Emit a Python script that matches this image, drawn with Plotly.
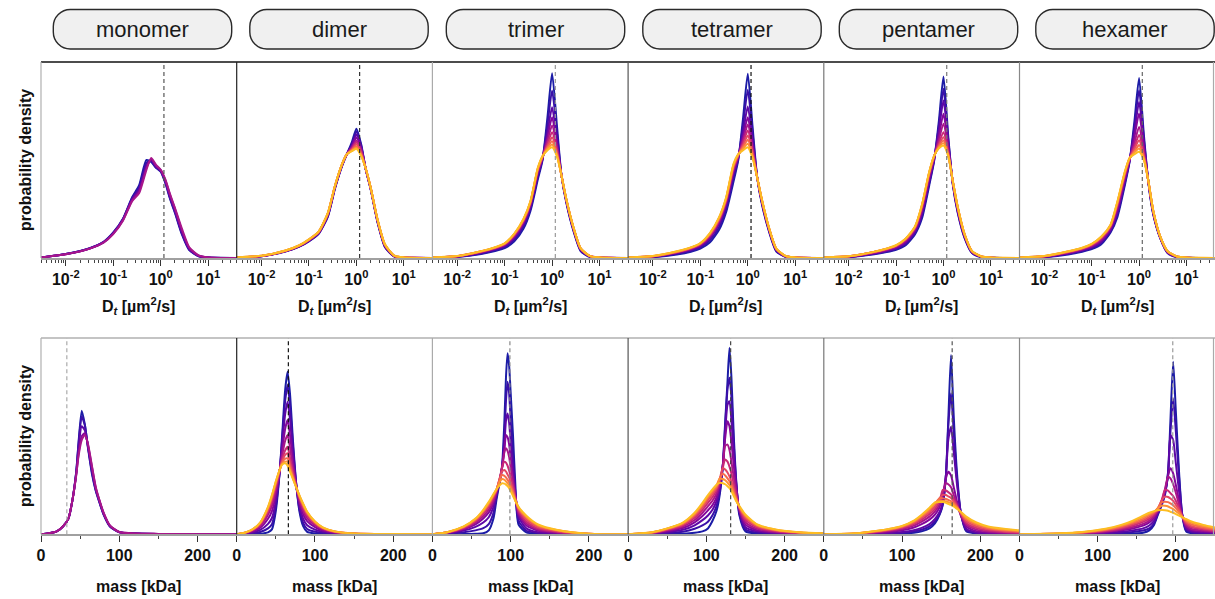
import math
import plotly.graph_objects as go

# ---------------- data ----------------
PANEL_NAMES = ["monomer", "dimer", "trimer", "tetramer", "pentamer", "hexamer"]
D_TICKS = [0.01, 0.1, 1, 10]
D_TICK_TEXT = ["10<sup>-2</sup>", "10<sup>-1</sup>", "10<sup>0</sup>", "10<sup>1</sup>"]
MASS_TICKS = [0, 100, 200]
D_REF = 1.17
MASS_REF = [33, 66, 99, 131, 164, 196]

# diffusion coefficient grid [um^2/s]
D_GRID = [0.003, 0.01, 0.032, 0.063, 0.1, 0.16, 0.25, 0.35, 0.5, 0.63, 0.8, 1.0, 1.26, 1.58, 2.0, 2.8, 4.0, 6.3, 10, 40]

D_MONOMER = [
    [0.3, 2.0, 5.0, 8.3, 13, 20, 31, 37, 50, 49, 46, 44, 38, 30, 23, 12, 4, 0.9, 0.2, 0],
    [0.3, 2.0, 5.0, 8.2, 12.8, 19.8, 30.5, 36, 48.5, 49.5, 46, 44.5, 38.5, 30.5, 23.5, 12.5, 4.3, 1.0, 0.2, 0],
    [0.3, 2.0, 4.9, 8.1, 12.6, 19.6, 30, 35, 47, 50, 46.5, 44.5, 39, 31, 24, 13, 4.5, 1.0, 0.3, 0],
    [0.3, 1.9, 4.8, 8.0, 12.4, 19.3, 29.5, 34, 46, 50.5, 47, 45, 39.5, 32, 25, 14, 5, 1.2, 0.3, 0],
    [0.3, 1.9, 4.8, 7.9, 12.2, 19, 29, 33, 45, 51, 47.5, 45, 40, 32.5, 25.5, 15, 5.5, 1.3, 0.3, 0],
]
D_DIMER = [
    [0.2, 0.9, 3.3, 5.8, 8.5, 12.3, 21, 35, 47, 53, 59, 66, 58, 45, 35, 18, 5.5, 0.7, 0.1, 0],
    [0.2, 0.9, 3.4, 5.9, 8.7, 12.5, 21.4, 35.3, 47.2, 53, 58, 64.5, 57.3, 45.1, 35.2, 18.3, 5.8, 0.8, 0.1, 0],
    [0.2, 0.9, 3.5, 6.0, 8.9, 12.7, 21.8, 35.6, 47.4, 53, 57.3, 63, 56.6, 45.2, 35.4, 18.6, 6.0, 0.9, 0.2, 0],
    [0.2, 1.0, 3.5, 6.1, 9.0, 12.9, 22.1, 35.8, 47.5, 53, 56.8, 61.5, 55.8, 45.3, 35.5, 18.8, 6.3, 0.9, 0.2, 0],
    [0.2, 1.0, 3.6, 6.2, 9.1, 13.0, 22.3, 36, 47.7, 53, 56.3, 60, 55, 45.3, 35.6, 19, 6.4, 1.0, 0.2, 0],
    [0.3, 1.0, 3.6, 6.3, 9.2, 13.1, 22.5, 36.1, 47.8, 53, 55.8, 59, 54.2, 45.4, 35.7, 19.1, 6.6, 1.0, 0.2, 0],
    [0.3, 1.0, 3.7, 6.3, 9.3, 13.3, 22.7, 36.3, 47.9, 53, 55.4, 58, 53.5, 45.4, 35.8, 19.3, 6.7, 1.1, 0.2, 0],
    [0.3, 1.1, 3.7, 6.4, 9.4, 13.4, 22.8, 36.4, 48, 53, 55, 57, 52.9, 45.5, 35.9, 19.4, 6.8, 1.1, 0.3, 0],
    [0.3, 1.1, 3.8, 6.5, 9.5, 13.5, 22.9, 36.5, 48, 53, 54.7, 56.3, 52.4, 45.5, 36, 19.5, 6.9, 1.2, 0.3, 0],
    [0.3, 1.1, 3.8, 6.5, 9.5, 13.5, 23, 36.5, 48, 53, 54.5, 55.7, 52, 45.5, 36, 19.5, 7, 1.2, 0.3, 0],
]
D_TRIMER = [
    [0.1, 0.5, 2.0, 3.5, 5, 8.5, 15, 24, 40, 50, 72, 94.3, 68, 42, 28, 14, 3.5, 0.5, 0.1, 0],
    [0.15, 0.6, 2.3, 4.0, 5.6, 9.4, 16.2, 25.2, 41.4, 50.5, 68, 85.5, 64.3, 42, 28.5, 14.5, 3.8, 0.6, 0.15, 0],
    [0.2, 0.7, 2.7, 4.4, 6.2, 10.3, 17.3, 26.3, 42.8, 50.9, 64.2, 76.9, 60.6, 42, 28.9, 14.9, 4.2, 0.7, 0.2, 0],
    [0.22, 0.8, 2.9, 4.7, 6.5, 10.9, 18, 27, 43.6, 51.2, 61.8, 71.8, 58.4, 42, 29.2, 15.2, 4.4, 0.8, 0.22, 0],
    [0.24, 0.85, 3.1, 4.9, 6.8, 11.3, 18.6, 27.6, 44.3, 51.4, 59.9, 67.6, 56.6, 42, 29.4, 15.4, 4.6, 0.85, 0.24, 0],
    [0.26, 0.9, 3.2, 5.1, 7.0, 11.7, 19, 28, 44.8, 51.6, 58.4, 64.2, 55.2, 42, 29.6, 15.6, 4.7, 0.9, 0.26, 0],
    [0.27, 0.93, 3.3, 5.2, 7.2, 12, 19.4, 28.4, 45.2, 51.7, 57.2, 61.6, 54.1, 42, 29.7, 15.7, 4.8, 0.93, 0.27, 0],
    [0.28, 0.96, 3.4, 5.3, 7.3, 12.2, 19.6, 28.6, 45.5, 51.8, 56.4, 59.6, 53.3, 42, 29.8, 15.8, 4.9, 0.96, 0.28, 0],
    [0.29, 0.98, 3.45, 5.4, 7.4, 12.3, 19.8, 28.8, 45.8, 51.9, 55.7, 57.9, 52.6, 42, 29.9, 15.9, 4.9, 0.98, 0.29, 0],
    [0.3, 1.0, 3.5, 5.5, 7.5, 12.5, 20, 29, 46, 52, 55, 56.5, 52, 42, 30, 16, 5, 1.0, 0.3, 0],
]
D_TETRAMER = [
    [0.1, 0.4, 1.8, 3.2, 4.8, 8, 14.5, 23.5, 39, 50, 72, 94, 67, 41, 27, 13.5, 3.3, 0.5, 0.1, 0],
    [0.14, 0.5, 2.2, 3.7, 5.4, 9.1, 15.9, 25.2, 41, 50.7, 68.3, 85.8, 63.5, 41, 27.6, 13.9, 3.6, 0.6, 0.14, 0],
    [0.19, 0.7, 2.5, 4.2, 6.0, 10.2, 17.4, 27, 43, 51.3, 64.4, 77.3, 59.8, 41, 28.1, 14.4, 4.0, 0.7, 0.19, 0],
    [0.22, 0.75, 2.7, 4.5, 6.5, 10.8, 18.3, 28, 44.3, 51.8, 62, 71.8, 57.6, 41, 28.5, 14.7, 4.2, 0.8, 0.22, 0],
    [0.24, 0.8, 2.9, 4.7, 6.8, 11.3, 19, 28.8, 45.2, 52.1, 60.3, 68.1, 56, 41, 28.7, 14.9, 4.3, 0.85, 0.24, 0],
    [0.25, 0.85, 3.0, 4.9, 7.0, 11.7, 19.6, 29.4, 45.9, 52.3, 58.9, 65.1, 54.7, 41, 28.9, 15.0, 4.4, 0.9, 0.25, 0],
    [0.27, 0.9, 3.1, 5.1, 7.2, 12, 20, 30, 46.6, 52.5, 57.7, 62.5, 53.6, 41, 29.1, 15.2, 4.6, 0.92, 0.27, 0],
    [0.28, 0.95, 3.2, 5.2, 7.4, 12.4, 20.4, 30.3, 47.1, 52.7, 56.7, 60.3, 52.6, 41, 29.3, 15.3, 4.7, 0.95, 0.28, 0],
    [0.29, 0.98, 3.3, 5.3, 7.5, 12.6, 20.7, 30.6, 47.5, 52.8, 55.9, 58.3, 51.8, 41, 29.4, 15.4, 4.7, 0.98, 0.29, 0],
    [0.3, 1.0, 3.4, 5.4, 7.6, 12.8, 21, 31, 48, 53, 55, 56.5, 51, 41, 29.5, 15.5, 4.8, 1.0, 0.3, 0],
]
D_PENTAMER = [
    [0.1, 0.4, 1.8, 3.0, 4.2, 6.5, 12, 20, 37, 49, 70, 92.6, 62, 37, 23, 10, 2.5, 0.4, 0.1, 0],
    [0.14, 0.49, 2.0, 3.3, 4.6, 7.1, 12.7, 21.3, 38.3, 49.5, 67.5, 86.3, 60.2, 37.4, 23.5, 10.4, 2.7, 0.47, 0.12, 0],
    [0.17, 0.58, 2.2, 3.6, 5.0, 7.7, 13.4, 22.5, 39.5, 50, 65.1, 80.4, 58.5, 37.7, 24, 10.7, 2.9, 0.54, 0.14, 0],
    [0.21, 0.67, 2.4, 4.0, 5.4, 8.4, 14.2, 23.8, 40.8, 50.6, 62.4, 73.6, 56.6, 38.1, 24.6, 11.1, 3.0, 0.62, 0.15, 0],
    [0.24, 0.75, 2.6, 4.2, 5.8, 8.9, 14.8, 24.8, 41.8, 51.1, 60.3, 68.5, 55.1, 38.4, 25.1, 11.4, 3.2, 0.68, 0.17, 0],
    [0.26, 0.81, 2.8, 4.5, 6.1, 9.3, 15.2, 25.7, 42.7, 51.4, 58.7, 64.2, 53.9, 38.6, 25.4, 11.6, 3.3, 0.72, 0.18, 0],
    [0.28, 0.84, 2.9, 4.6, 6.2, 9.6, 15.5, 26.2, 43.2, 51.6, 57.7, 61.6, 53.2, 38.8, 25.6, 11.8, 3.4, 0.75, 0.19, 0],
    [0.29, 0.87, 2.9, 4.7, 6.3, 9.8, 15.7, 26.5, 43.5, 51.8, 57, 60, 52.7, 38.9, 25.8, 11.9, 3.4, 0.77, 0.19, 0],
    [0.29, 0.89, 3.0, 4.7, 6.4, 9.9, 15.9, 26.8, 43.8, 51.9, 56.4, 58.6, 52.3, 38.9, 25.9, 11.9, 3.5, 0.79, 0.2, 0],
    [0.3, 0.9, 3.0, 4.8, 6.5, 10, 16, 27, 44, 52, 56, 57.4, 52, 39, 26, 12, 3.5, 0.8, 0.2, 0],
]
D_HEXAMER = [
    [0.1, 0.4, 1.8, 3.2, 4.5, 7, 13, 21, 37, 49, 70, 91.9, 63, 38, 22, 10, 2.5, 0.4, 0.1, 0],
    [0.13, 0.5, 2.1, 3.5, 5.0, 7.7, 13.7, 22.4, 38.2, 49.3, 67.1, 85.6, 60.8, 38.2, 22.3, 10.2, 2.7, 0.47, 0.12, 0],
    [0.17, 0.6, 2.3, 3.9, 5.4, 8.3, 14.3, 23.6, 39.3, 49.7, 64.4, 79.6, 58.7, 38.3, 22.7, 10.3, 2.8, 0.53, 0.13, 0],
    [0.2, 0.69, 2.6, 4.2, 5.8, 8.9, 14.9, 24.8, 40.4, 50, 61.8, 73.7, 56.8, 38.5, 23, 10.5, 3.0, 0.59, 0.15, 0],
    [0.23, 0.8, 2.9, 4.5, 6.3, 9.6, 15.6, 26.3, 41.6, 50.3, 58.8, 66.9, 54.4, 38.7, 23.3, 10.7, 3.2, 0.66, 0.17, 0],
    [0.25, 0.86, 3.0, 4.7, 6.6, 10.1, 16.1, 27.2, 42.4, 50.5, 56.9, 62.7, 53, 38.8, 23.5, 10.8, 3.3, 0.71, 0.18, 0],
    [0.27, 0.9, 3.1, 4.9, 6.8, 10.4, 16.4, 27.7, 42.9, 50.7, 55.7, 60.1, 52.1, 38.8, 23.7, 10.8, 3.3, 0.74, 0.18, 0],
    [0.28, 0.95, 3.3, 5.0, 7.0, 10.6, 16.6, 28.3, 43.4, 50.8, 54.5, 57.6, 51.2, 38.9, 23.8, 10.9, 3.4, 0.76, 0.19, 0],
    [0.29, 0.97, 3.3, 5.1, 7.1, 10.8, 16.8, 28.6, 43.7, 50.9, 53.9, 55.9, 50.7, 38.9, 23.9, 10.9, 3.5, 0.78, 0.2, 0],
    [0.3, 1.0, 3.4, 5.2, 7.2, 11, 17, 29, 44, 51, 53, 54.2, 50, 39, 24, 11, 3.5, 0.8, 0.2, 0],
]

# mass grids [kDa] and densities
MASS_MONOMER = [0, 10, 20, 28, 35, 40, 45, 48, 52, 56, 60, 65, 70, 75, 80, 88, 100, 120, 150, 250]
M_MONOMER = [
    [0, 0.5, 1.5, 4, 8, 17, 32, 47, 63, 56, 44, 31, 22, 15.8, 10, 4, 1, 0.4, 0.2, 0],
    [0, 0.5, 1.5, 4, 8, 17, 31.5, 46, 60, 55.5, 44.5, 32, 22.5, 16, 10.2, 4.1, 1.1, 0.4, 0.2, 0],
    [0, 0.5, 1.5, 4, 8, 17, 31, 44, 55, 53, 45, 33, 23, 16.5, 10.5, 4.3, 1.1, 0.4, 0.2, 0],
    [0, 0.5, 1.5, 4, 8, 17, 30.5, 41, 50, 51.5, 45.5, 34.5, 23.5, 16.8, 10.8, 4.4, 1.2, 0.4, 0.2, 0],
    [0, 0.5, 1.5, 4, 8, 17, 30, 40, 48, 50.6, 46, 35, 24, 17, 11, 4.5, 1.2, 0.4, 0.2, 0],
]
MASS_DIMER = [0, 10, 20, 30, 40, 45, 50, 55, 58, 62, 65, 68, 72, 76, 80, 85, 90, 100, 110, 125, 150, 200, 250]
M_DIMER = [
    [0, 0, 0.1, 0.3, 1, 2.5, 12, 32, 50, 74, 82.8, 72, 47, 26, 12, 4, 1.2, 0.4, 0.2, 0.1, 0, 0, 0],
    [0, 0.12, 0.46, 1.2, 3, 5.1, 14.3, 32.2, 47.8, 68.3, 76, 66, 44.2, 25.7, 13.2, 5.7, 2.7, 1.3, 0.7, 0.3, 0.06, 0.02, 0],
    [0, 0.26, 0.9, 2.2, 5.3, 8.3, 17, 32.3, 45.2, 61.5, 67.5, 58.8, 40.7, 25.3, 14.6, 7.8, 4.6, 2.4, 1.3, 0.6, 0.13, 0.03, 0],
    [0, 0.42, 1.4, 3.3, 7.9, 11.8, 20, 32.5, 42.3, 53.9, 58.2, 50.8, 36.9, 24.9, 16.2, 10.1, 6.7, 3.6, 1.9, 0.8, 0.2, 0.05, 0],
    [0, 0.55, 1.8, 4.2, 10, 14.6, 22.4, 32.7, 40, 47.8, 50.6, 44.4, 33.9, 24.6, 17.5, 11.9, 8.3, 4.6, 2.5, 1.1, 0.28, 0.07, 0],
    [0, 0.66, 2.1, 5, 11.7, 16.9, 24.3, 32.8, 38.1, 42.8, 44.6, 39.2, 31.4, 24.4, 18.6, 13.4, 9.6, 5.4, 2.9, 1.2, 0.33, 0.08, 0],
    [0, 0.71, 2.2, 5.4, 12.6, 18.1, 25.4, 32.9, 37.1, 40.5, 41.3, 36.4, 30.1, 24.2, 19.1, 14.2, 10.4, 5.8, 3.1, 1.3, 0.36, 0.09, 0],
    [0, 0.75, 2.4, 5.7, 13.2, 19, 26.1, 32.9, 36.4, 38.5, 38.7, 34.4, 29.1, 24.1, 19.5, 14.8, 10.9, 6.1, 3.3, 1.4, 0.38, 0.09, 0],
    [0, 0.78, 2.45, 5.9, 13.7, 19.7, 26.7, 33, 35.8, 37, 37, 32.8, 28.4, 24, 19.8, 15.3, 11.3, 6.4, 3.4, 1.5, 0.39, 0.1, 0],
    [0, 0.8, 2.5, 6, 14, 20, 27, 33, 35.5, 36.2, 35, 32, 28, 24, 20, 15.5, 11.5, 6.5, 3.5, 1.5, 0.4, 0.1, 0],
]
MASS_TRIMER = [0, 20, 40, 55, 65, 72, 78, 82, 86, 89, 92, 94, 96, 98, 100, 103, 106, 110, 120, 135, 160, 200, 250]
M_TRIMER = [
    [0, 0, 0.1, 0.3, 0.5, 2, 8, 18, 27, 35, 58, 80, 92.2, 86, 72, 50, 25, 5, 1, 0.3, 0.1, 0, 0],
    [0, 0.3, 1, 2, 3.1, 5.2, 11, 19.5, 27, 34, 50, 68, 77.7, 72, 58, 40, 21, 7, 1.8, 0.6, 0.2, 0, 0],
    [0, 0.55, 1.9, 3.8, 6, 8.7, 14, 20.5, 27, 34, 46, 58, 61.6, 57, 47, 34, 21, 9, 3, 1, 0.4, 0.05, 0],
    [0, 0.76, 2.6, 5.1, 8.1, 11.1, 16, 21.5, 27.5, 34, 43, 50.6, 49.5, 46, 39, 29, 19.5, 10, 4.5, 1.8, 0.7, 0.1, 0],
    [0, 0.88, 2.9, 5.9, 9.3, 12.6, 17.2, 22, 28, 34, 42, 43.8, 42.5, 39.5, 34, 27, 19, 11, 5.5, 2.4, 1, 0.15, 0],
    [0, 1, 3.3, 6.7, 10.5, 14, 18.5, 22.5, 28.5, 34, 37, 36.5, 35, 32.5, 29.5, 24.5, 18.5, 12, 6.5, 3, 1.3, 0.2, 0],
    [0, 1.08, 3.6, 7.2, 11.3, 15, 19.3, 22.8, 28.5, 32, 32.8, 32, 30.5, 29, 26.5, 22.5, 17.8, 12.8, 7.5, 3.7, 1.6, 0.22, 0],
    [0, 1.13, 3.8, 7.5, 11.8, 15.6, 19.8, 22.9, 28, 30.2, 29.8, 29, 27.8, 26.5, 24.5, 21.5, 17.5, 13.3, 8.5, 4.3, 1.9, 0.25, 0],
    [0, 1.16, 3.9, 7.8, 12.1, 16, 20.1, 23, 26.8, 28.2, 27.8, 27, 26, 25, 23.3, 20.5, 17.2, 13.7, 9, 4.7, 2.1, 0.28, 0],
    [0, 1.2, 4, 8, 12.5, 16.5, 20.5, 23, 25, 26, 25.8, 25.3, 24.5, 23.5, 22, 19.5, 17, 14, 9.5, 5, 2.2, 0.3, 0],
]
MASS_TETRAMER = [0, 30, 50, 70, 85, 95, 102, 108, 113, 117, 121, 124, 127, 129.5, 132, 135, 138, 142, 150, 165, 190, 220, 250]
M_TETRAMER = [
    [0, 0, 0.1, 0.3, 0.8, 1.5, 3, 7, 12, 20, 35, 57, 78, 95, 80, 50, 28, 10, 1.5, 0.5, 0.2, 0.1, 0],
    [0, 0.2, 0.6, 1.3, 2.8, 4.5, 6.4, 9.8, 14.5, 21.5, 35, 55, 74, 79.7, 70, 46, 27, 11, 2.5, 0.9, 0.4, 0.2, 0.1],
    [0, 0.4, 1.1, 2.3, 4.6, 7.2, 9.6, 12.6, 17, 23.5, 35, 52, 66, 67.8, 58, 41, 26, 12, 3.5, 1.5, 0.6, 0.3, 0.15],
    [0, 0.5, 1.6, 3.2, 6.1, 9.3, 12.2, 15, 19, 25, 35, 49, 57.6, 55, 47, 35, 24, 12.5, 4.8, 2, 0.9, 0.4, 0.2],
    [0, 0.65, 2, 4, 7.3, 11, 14.3, 17.2, 20.8, 26, 35, 45, 45.7, 43, 37, 29, 22, 13, 6, 2.8, 1.2, 0.5, 0.25],
    [0, 0.75, 2.3, 4.6, 8.4, 12.5, 16, 19, 22.5, 27, 34, 38.1, 37, 34.5, 31, 25.5, 20, 13.5, 7.2, 3.4, 1.5, 0.65, 0.3],
    [0, 0.85, 2.6, 5.1, 9.3, 13.7, 17.4, 20.4, 23.5, 28, 33.8, 33, 31.5, 29.5, 27, 23, 19, 13.8, 8.3, 4, 1.8, 0.8, 0.35],
    [0, 0.92, 2.8, 5.5, 10, 14.7, 18.5, 21.5, 24.2, 28.5, 30.8, 30, 28.5, 27, 25, 21.5, 18.3, 14, 9, 4.4, 2, 0.9, 0.4],
    [0, 0.97, 2.9, 5.8, 10.6, 15.4, 19.3, 22.4, 25, 28.4, 28.2, 27.5, 26.3, 25.2, 23.5, 20.5, 17.6, 14.2, 9.6, 4.8, 2.2, 0.95, 0.45],
    [0, 1, 3, 6, 11, 16, 20, 23, 25.2, 26.2, 26, 25.5, 24.5, 23.5, 22, 19.5, 17, 14.5, 10, 5, 2.3, 1, 0.5],
]
MASS_PENTAMER = [0, 40, 60, 80, 100, 115, 125, 135, 142, 148, 152, 156, 159, 162.5, 166, 170, 175, 182, 195, 210, 230, 250]
M_PENTAMER = [
    [0, 0, 0, 0.1, 0.3, 0.8, 1.5, 3, 5.5, 10, 15, 30, 58, 91.3, 60, 32, 11, 1.5, 0.4, 0.2, 0.1, 0],
    [0, 0.05, 0.15, 0.35, 0.7, 1.4, 2.3, 4, 6.6, 10.5, 15.5, 30, 55, 71.8, 52, 29, 11, 2, 0.6, 0.3, 0.2, 0.1],
    [0, 0.1, 0.3, 0.6, 1.2, 2.1, 3.3, 5.2, 7.8, 11.5, 16.5, 30, 48, 54.8, 42, 26, 11, 2.8, 0.9, 0.5, 0.3, 0.2],
    [0, 0.2, 0.6, 1.1, 2.1, 3.5, 5.2, 7.5, 10, 14, 20, 28.5, 31.9, 30, 24, 17, 9.5, 4, 1.6, 0.9, 0.6, 0.4],
    [0, 0.25, 0.8, 1.5, 2.7, 4.4, 6.5, 9, 11.7, 15.5, 21, 26, 25.5, 24, 20, 15.5, 10, 5, 2.4, 1.4, 0.9, 0.6],
    [0, 0.3, 0.9, 1.8, 3.2, 5.2, 7.5, 10.3, 13, 17, 22.6, 22.3, 21.5, 20.3, 18, 14.8, 10.5, 5.8, 3.2, 1.9, 1.2, 0.8],
    [0, 0.35, 1.1, 2, 3.6, 5.8, 8.4, 11.4, 14.2, 18.5, 20.1, 20, 19.3, 18.5, 16.8, 14.3, 10.8, 6.6, 4, 2.5, 1.6, 1.1],
    [0, 0.4, 1.2, 2.2, 3.9, 6.3, 9.1, 12.3, 15.5, 18.4, 18.3, 18, 17.5, 16.9, 15.8, 13.9, 11.1, 7.5, 4.8, 3.1, 2, 1.4],
    [0, 0.45, 1.3, 2.4, 4.1, 6.7, 9.6, 13, 16, 17.2, 17, 16.8, 16.4, 15.9, 15, 13.5, 11.3, 8.3, 5.4, 3.6, 2.4, 1.7],
    [0, 0.5, 1.4, 2.5, 4.3, 7, 10, 13.5, 16.2, 16.5, 16.4, 16, 15.5, 15, 14.2, 13, 11.5, 9, 6, 4, 2.8, 2],
]
MASS_HEXAMER = [0, 50, 80, 110, 130, 145, 158, 166, 172, 177, 182, 186, 190, 193, 196.5, 200, 204, 208, 213, 220, 235, 250]
M_HEXAMER = [
    [0, 0, 0, 0.1, 0.2, 0.4, 0.8, 2, 4.8, 10, 15, 20, 32, 58, 87.9, 62, 32, 10, 1.5, 0.5, 0.2, 0.1],
    [0, 0.05, 0.15, 0.4, 0.7, 1.2, 1.9, 3, 5.5, 10.5, 15.5, 21, 31, 52, 69.2, 52, 29, 10.5, 2.2, 0.9, 0.5, 0.4],
    [0, 0.1, 0.25, 0.7, 1.3, 2, 3, 4.5, 6.8, 11, 16, 21, 30, 50.6, 48, 36, 22, 10, 3, 1.4, 0.9, 0.7],
    [0, 0.15, 0.4, 1.1, 2, 3, 4.4, 6, 8.2, 11.8, 16.5, 22, 30, 33.6, 31, 25, 17, 9.5, 3.8, 2, 1.4, 1],
    [0, 0.2, 0.5, 1.4, 2.5, 3.7, 5.3, 7, 9.2, 12.3, 17, 23, 29.3, 28.5, 25.5, 21, 15, 9.3, 4.5, 2.7, 1.9, 1.4],
    [0, 0.25, 0.65, 1.7, 3, 4.5, 6.3, 8, 10, 12.8, 17.5, 22.6, 22.2, 21, 19.5, 17, 13.5, 9.2, 5.3, 3.5, 2.5, 1.8],
    [0, 0.3, 0.8, 2, 3.5, 5.2, 7.1, 8.9, 10.7, 13.2, 17.5, 19.2, 19, 18.2, 17, 15, 12.5, 9.2, 6, 4.2, 3, 2.2],
    [0, 0.35, 0.95, 2.3, 4, 5.8, 7.9, 9.7, 11.2, 13.5, 16.4, 16.6, 16.4, 15.8, 14.8, 13.3, 11.6, 9, 6.6, 5, 3.6, 2.6],
    [0, 0.45, 1.1, 2.6, 4.4, 6.4, 8.7, 10.4, 11.5, 13.2, 14.6, 14.5, 14.2, 13.6, 12.9, 11.8, 10.6, 8.9, 7.2, 5.8, 4.2, 3],
    [0, 0.5, 1.2, 2.8, 4.8, 7, 9.5, 11, 11.8, 12.2, 12.4, 12.3, 12, 11.5, 11, 10.3, 9.5, 8.7, 7.8, 6.5, 4.8, 3.5],
]

D_SETS = [D_MONOMER, D_DIMER, D_TRIMER, D_TETRAMER, D_PENTAMER, D_HEXAMER]
MASS_GRIDS = [MASS_MONOMER, MASS_DIMER, MASS_TRIMER, MASS_TETRAMER, MASS_PENTAMER, MASS_HEXAMER]
M_SETS = [M_MONOMER, M_DIMER, M_TRIMER, M_TETRAMER, M_PENTAMER, M_HEXAMER]

COLORS = ['#1c1ca6', '#3a10a8', '#5d08a6', '#84079b', '#a8168a',
          '#c92a76', '#e34864', '#f56b4c', '#fd9236', '#fdbd22']

# ---------------- layout helpers ----------------
W, H = 1215, 599
def fx(x):
    return min(max(x / W, 0.0), 1.0)
def fy(y):
    return min(max(1 - y / H, 0.0), 1.0)

PANEL_L0 = 41
PANEL_W = 195.7
ROWS = [(62, 258), (338, 534.3)]
FONT = "Arial, Liberation Sans, sans-serif"
BOLD = dict(family=FONT, size=16, color="#111", weight="bold")

TOP_DASH = ['#555', '#333', '#999', '#111', '#777', '#666']
BOT_DASH = ['#aaa', '#111', '#888', '#444', '#555', '#999']
DIVIDER_COLORS = ['#b0b0b0', '#222', '#aaa', '#555', '#777', '#888', '#aaa']

fig = go.Figure()
layout = dict(
    width=W, height=H, margin=dict(l=0, r=0, t=0, b=0), autosize=False,
    template="none", paper_bgcolor="white", plot_bgcolor="white",
    showlegend=False, font=dict(family=FONT),
)

minor_log = [m * 10 ** e for e in range(-3, 2) for m in range(2, 10)]

for row in range(2):
    top, bot = ROWS[row]
    for j in range(6):
        n = row * 6 + j + 1
        L = PANEL_L0 + PANEL_W * j
        xa = dict(domain=[fx(L), fx(L + PANEL_W)], anchor=f"y{n}",
                  showgrid=False, zeroline=False, showline=True,
                  linecolor="#a0a0a0", linewidth=1.5, ticks="outside",
                  ticklen=6, tickwidth=1, tickcolor="#333",
                  tickfont=dict(family=FONT, size=16, color="#111", weight="bold"),
                  automargin=False, fixedrange=True)
        if row == 0:
            xa.update(type="log", range=[math.log10(0.003), math.log10(40)],
                      tickvals=D_TICKS, ticktext=D_TICK_TEXT,
                      minor=dict(tickvals=minor_log, ticks="outside", ticklen=3,
                                 tickwidth=1, tickcolor="#444"))
        else:
            xa.update(type="linear", range=[0, 250], tickvals=MASS_TICKS,
                      ticktext=[str(v) for v in MASS_TICKS],
                      minor=dict(dtick=50, ticks="outside", ticklen=3,
                                 tickwidth=1, tickcolor="#444"))
        ya = dict(domain=[fy(bot), fy(top)], anchor=f"x{n}", range=[0, 100],
                  visible=False, fixedrange=True)
        layout["xaxis" if n == 1 else f"xaxis{n}"] = xa
        layout["yaxis" if n == 1 else f"yaxis{n}"] = ya

        if row == 0:
            xs, curves = D_GRID, D_SETS[j]
        else:
            xs, curves = MASS_GRIDS[j], M_SETS[j]
        for i, ys in enumerate(curves):
            fig.add_trace(go.Scatter(
                x=xs, y=ys, mode="lines", xaxis=f"x{n}", yaxis=f"y{n}",
                line=dict(color=COLORS[i], width=2.0, shape="spline", smoothing=0.6),
                hoverinfo="skip"))
        ref = D_REF if row == 0 else MASS_REF[j]
        dcol = TOP_DASH[j] if row == 0 else BOT_DASH[j]
        fig.add_trace(go.Scatter(
            x=[ref, ref], y=[0, 100], mode="lines", xaxis=f"x{n}", yaxis=f"y{n}",
            line=dict(color=dcol, width=1.2, dash="4px,3px"), hoverinfo="skip"))

shapes = []
annotations = []
# frame lines
for row in range(2):
    top, bot = ROWS[row]
    shapes.append(dict(type="line", xref="paper", yref="paper",
                       x0=fx(PANEL_L0), x1=1, y0=fy(top), y1=fy(top),
                       line=dict(color="#111" if row == 0 else "#b0b0b0", width=1.3)))
    for k in range(7):
        x = PANEL_L0 + PANEL_W * k
        if k == 6:
            x = min(x, W - 1.5)
        shapes.append(dict(type="line", xref="paper", yref="paper",
                           x0=fx(x), x1=fx(x), y0=fy(bot), y1=fy(top),
                           line=dict(color=DIVIDER_COLORS[k], width=1.2)))

# header pills
def pill(L, T, R, B, r):
    k = 0.5523 * r
    pts = [
        ("M", [(L + r, T)]),
        ("L", [(R - r, T)]),
        ("C", [(R - r + k, T), (R, T + r - k), (R, T + r)]),
        ("L", [(R, B - r)]),
        ("C", [(R, B - r + k), (R - r + k, B), (R - r, B)]),
        ("L", [(L + r, B)]),
        ("C", [(L + r - k, B), (L, B - r + k), (L, B - r)]),
        ("L", [(L, T + r)]),
        ("C", [(L, T + r - k), (L + r - k, T), (L + r, T)]),
    ]
    s = ""
    for cmd, ps in pts:
        s += cmd + " ".join(f"{fx(a):.5f},{fy(b):.5f}" for a, b in ps) + " "
    return s + "Z"

for j, name in enumerate(PANEL_NAMES):
    L = 53.3 + 196.5 * j
    R = L + 178.4
    shapes.append(dict(type="path", xref="paper", yref="paper",
                       path=pill(L, 9.5, R, 49, 17),
                       fillcolor="#f0f0f0", line=dict(color="#2a2a2a", width=1.4)))
    annotations.append(dict(x=fx((L + R) / 2), y=fy(29.5), xref="paper", yref="paper",
                            text=name, showarrow=False, xanchor="center", yanchor="middle",
                            font=dict(family=FONT, size=22, color="#1a1a1a")))
    cx = PANEL_L0 + PANEL_W * j + PANEL_W / 2
    annotations.append(dict(x=fx(cx), y=fy(306), xref="paper", yref="paper",
                            text="D<sub><i>t</i></sub> [µm<sup>2</sup>/s]", showarrow=False,
                            xanchor="center", yanchor="middle", font=BOLD))
    annotations.append(dict(x=fx(cx), y=fy(586), xref="paper", yref="paper",
                            text="mass [kDa]", showarrow=False,
                            xanchor="center", yanchor="middle", font=BOLD))

for yc in (160, 436):
    annotations.append(dict(x=fx(25), y=fy(yc), xref="paper", yref="paper",
                            text="probability density", textangle=-90, showarrow=False,
                            xanchor="center", yanchor="middle", font=BOLD))

layout["shapes"] = shapes
layout["annotations"] = annotations
fig.update_layout(**layout)
fig.write_html("out.html")
